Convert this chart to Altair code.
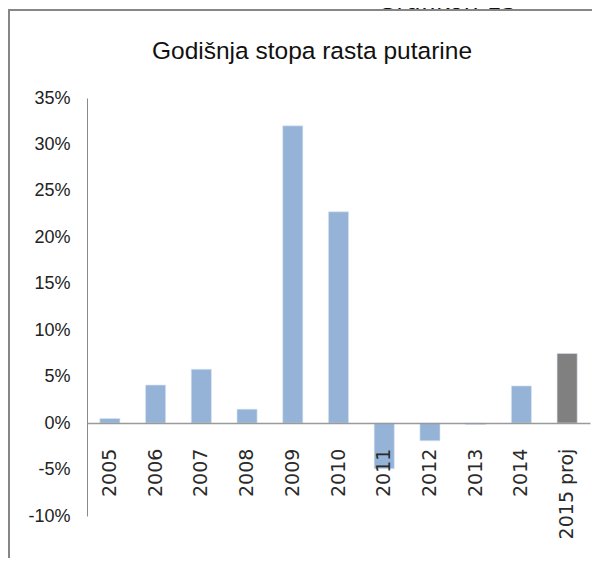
import altair as alt
import pandas as pd

# ---- data ----
years = ["2005", "2006", "2007", "2008", "2009", "2010", "2011", "2012", "2013", "2014", "2015 proj"]
rates = [0.005, 0.041, 0.058, 0.015, 0.320, 0.2275, -0.049, -0.019, -0.0015, 0.040, 0.075]
kinds = ["actual"] * 10 + ["projection"]
y_ticks = [-0.10, -0.05, 0.0, 0.05, 0.10, 0.15, 0.20, 0.25, 0.30, 0.35]
title_text = "Godišnja stopa rasta putarine"
corner_text = "Grafikon 15"

df = pd.DataFrame({"year": years, "rate": rates, "kind": kinds})

W, H = 503, 418
Y_MIN, Y_MAX = -0.10, 0.35
zero_offset = -H * (0 - Y_MIN) / (Y_MAX - Y_MIN)

SANS = "Liberation Sans, Arial, sans-serif"

bars = alt.Chart(df).mark_bar(stroke="#dce6f2", strokeWidth=0.6).encode(
    x=alt.X(
        "year:N",
        sort=years,
        scale=alt.Scale(paddingInner=0.56, paddingOuter=0.28),
        axis=alt.Axis(
            title=None,
            labelAngle=-90,
            labelAlign="right",
            labelBaseline="middle",
            labelPadding=25,
            ticks=False,
            offset=zero_offset,
            zindex=1,
            domainColor="#9a9a9a",
            domainWidth=1.5,
            labelFont="DejaVu Sans",
            labelFontSize=19,
            labelColor="#2a2a2a",
        ),
    ),
    y=alt.Y(
        "rate:Q",
        scale=alt.Scale(domain=[Y_MIN, Y_MAX], nice=False, zero=False),
        axis=alt.Axis(
            title=None,
            values=y_ticks,
            labelExpr="round(datum.value*100) + '%'",
            grid=False,
            ticks=False,
            labelPadding=17,
            domainColor="#8a8a8a",
            domainWidth=1,
            labelFont=SANS,
            labelFontSize=18,
            labelColor="#222222",
        ),
    ),
    color=alt.Color(
        "kind:N",
        scale=alt.Scale(domain=["actual", "projection"], range=["#95B3D7", "#808080"]),
        legend=None,
    ),
)

frame = alt.Chart(pd.DataFrame({"f": [0]})).mark_rect(
    fill=None, stroke="#868686", strokeWidth=2
).encode(
    x=alt.value(-78), x2=alt.value(800), y=alt.value(-88), y2=alt.value(800)
)

title = alt.Chart(pd.DataFrame({"t": [title_text]})).mark_text(
    font=SANS, fontSize=24.5, color="#111111", align="center", baseline="alphabetic"
).encode(text="t:N", x=alt.value(225), y=alt.value(-39))

corner = alt.Chart(pd.DataFrame({"t": [corner_text]})).mark_text(
    font="DejaVu Sans", fontSize=24, color="#111111", align="right", baseline="alphabetic"
).encode(text="t:N", x=alt.value(430), y=alt.value(-89.5))

chart = alt.layer(frame, bars, title, corner).properties(
    width=W,
    height=H,
    autosize="none",
    padding={"left": 79, "top": 90, "right": 2, "bottom": 42},
).configure_view(stroke=None)

chart.save("out.html", embed_options={"renderer": "svg", "actions": False})
